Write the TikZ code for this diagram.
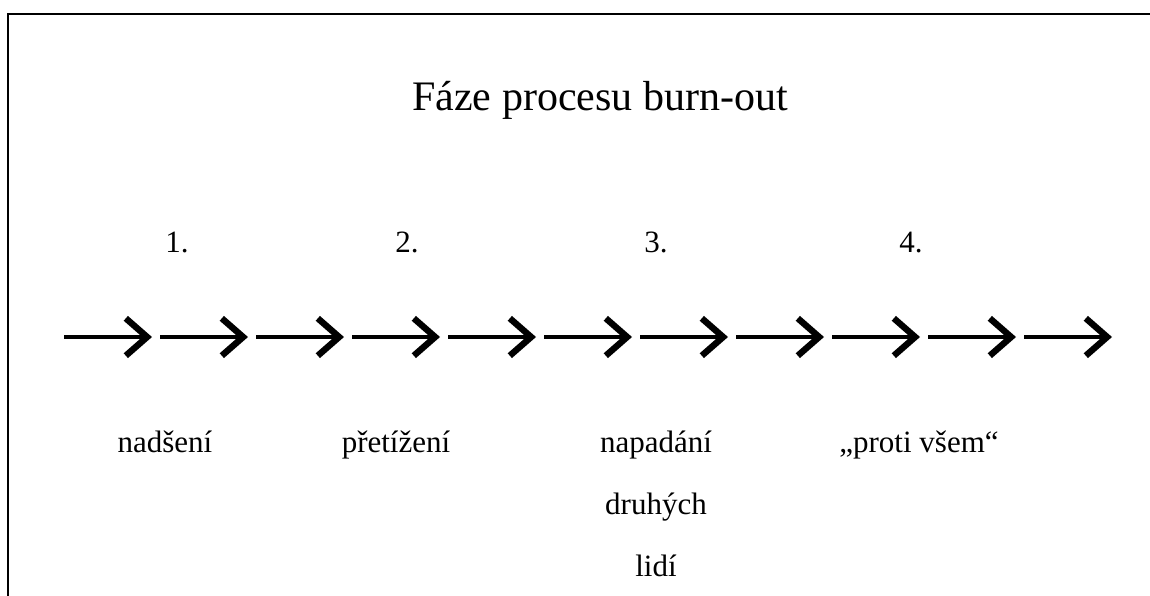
\documentclass[tikz,border=0pt]{standalone}
\usepackage{fontspec}
\setmainfont{Liberation Serif}
\usetikzlibrary{arrows.meta}
\begin{document}
\begin{tikzpicture}[x=0.75pt,y=-0.75pt,
  frameline/.style={line width=2pt},
  phasearrow/.style={line width=3.4pt,
    -{Straight Barb[length=16pt,width=28pt,line width=4.8pt]}},
  titletext/.style={font=\fontsize{31.5}{38}\selectfont, anchor=base, inner sep=0pt},
  bodytext/.style={font=\fontsize{23.25}{46.5}\selectfont, anchor=base, inner sep=0pt, align=center},
]
\useasboundingbox (0,0) rectangle (1150,596);
% open frame: left and top edges
\draw[frameline] (8,600) -- (8,14) -- (1152,14);

% title
\node[titletext] (title) at (600,110) {Fáze procesu burn-out};

% phase numbers
\node[bodytext] (n1) at (177,252) {1.};
\node[bodytext] (n2) at (407,252) {2.};
\node[bodytext] (n3) at (656,252) {3.};
\node[bodytext] (n4) at (911,252) {4.};

% chain of arrows
\foreach \i in {0,...,10} {
  \coordinate (s\i) at ({64+96*\i},337);
  \coordinate (t\i) at ({152+96*\i},337);
  \draw[phasearrow] (s\i) -- (t\i);
}

% phase names (multi-line node is placed by the baseline of its last line)
\node[bodytext] (l1) at (165,452) {nadšení};
\node[bodytext] (l2) at (396,452) {přetížení};
\node[bodytext] (l3) at (656,576) {napadání\\druhých\\lidí};
\node[bodytext] (l4) at (919,452) {„proti všem“};
\end{tikzpicture}
\end{document}
